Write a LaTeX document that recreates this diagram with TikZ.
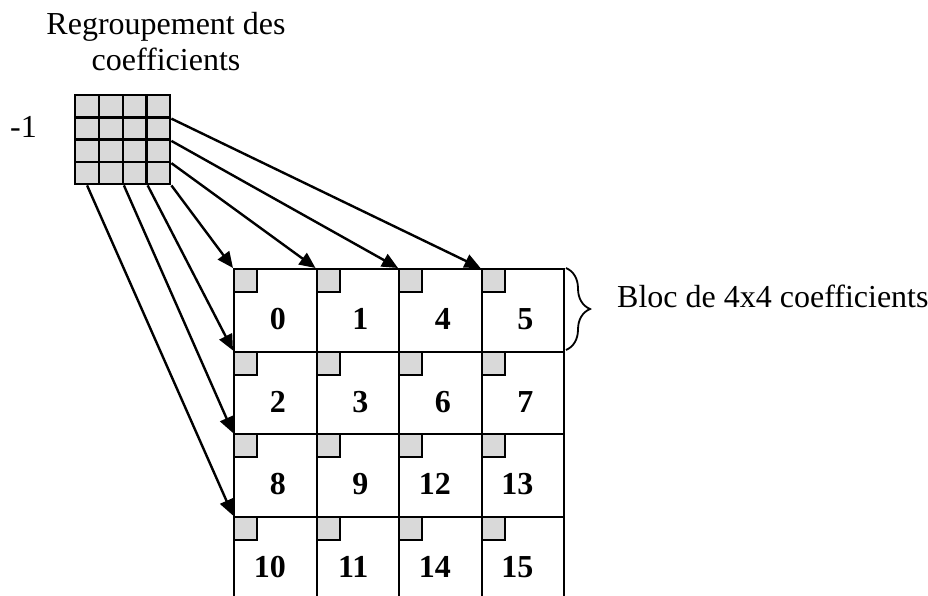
\documentclass[tikz,border=0pt]{standalone}
\usepackage{fontspec}
\setmainfont{Liberation Serif}
\usetikzlibrary{arrows.meta,decorations.pathreplacing}
\begin{document}
\begin{tikzpicture}[x=1pt,y=-1pt,
  font=\fontsize{32}{38}\selectfont,
  cell/.style={draw,line width=2.2pt,minimum width=82.5pt,minimum height=82.5pt,
    inner sep=0pt,anchor=north west},
  corner/.style={draw,fill=gray!30,line width=2.2pt,minimum size=23pt,
    inner sep=0pt,anchor=north west},
  coef/.style={draw,fill=gray!30,line width=2.4pt,minimum width=23.75pt,
    minimum height=22.25pt,inner sep=0pt,anchor=north west},
  num/.style={font=\fontsize{32}{38}\selectfont\bfseries,anchor=base east,inner sep=0pt},
  link/.style={line width=2.4pt,-{Triangle[length=16pt,width=14pt]}}]
\useasboundingbox (0,0) rectangle (928,596);
\clip (0,0) rectangle (928,596);

% caption over the small block
\node[anchor=base,inner sep=0pt] (title1) at (166,35) {Regroupement des};
\node[anchor=base,inner sep=0pt] (title2) at (166,71) {coefficients};
\node[anchor=base west,inner sep=0pt] (minus) at (10,138) {-1};

% small 4x4 block of grouped coefficients
\foreach \r in {1,...,4}
  \foreach \c in {1,...,4}
    \node[coef] (s-\r-\c) at ({74+(\c-1)*23.75},{94+(\r-1)*22.25}) {};

% large grid: cell numbers in scan order
\foreach \n/\r/\c in {0/0/0,1/0/1,4/0/2,5/0/3,
                      2/1/0,3/1/1,6/1/2,7/1/3,
                      8/2/0,9/2/1,12/2/2,13/2/3,
                      10/3/0,11/3/1,14/3/2,15/3/3}{
  \node[cell] (c\n) at ({233+\c*82.5},{268+\r*82.5}) {};
  \node[corner] (g\n) at (c\n.north west) {};
  \node[num] (t\n) at ({233+\c*82.5+53},{268+\r*82.5+61.5}) {\n};
}

% links from the small block to the cells
\draw[link] (s-1-4.south east) -- (c5.north west);
\draw[link] (s-2-4.south east) -- (c4.north west);
\draw[link] (s-3-4.south east) -- (c1.north west);
\draw[link] (s-4-4.south east) -- (c0.north west);
\draw[link] (s-4-3.south east) -- (c2.north west);
\draw[link] (s-4-2.south east) -- (c8.north west);
\draw[link] (s-4-1.south) -- (c10.north west);

% brace over the first row
\coordinate (b1) at (566,268);
\coordinate (b2) at (566,350);
\draw[line width=1.8pt,decorate,decoration={brace,amplitude=24pt}] (b1) -- (b2);
\node[anchor=base west,inner sep=0pt] (bloc) at (617,307) {Bloc de 4x4 coefficients};
\end{tikzpicture}
\end{document}
